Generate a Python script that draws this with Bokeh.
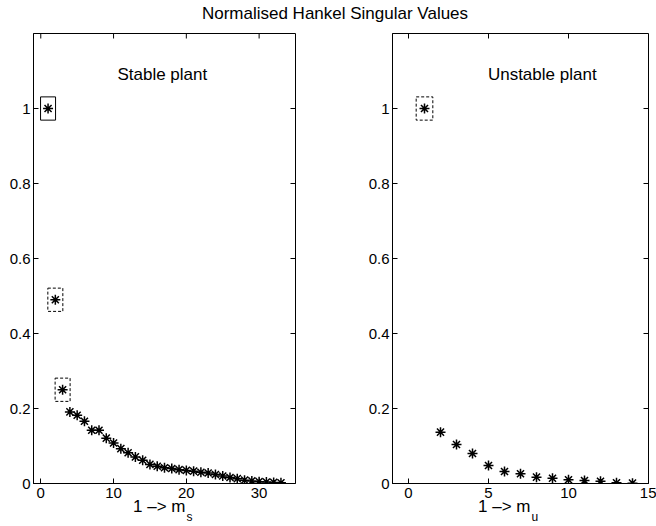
from bokeh.plotting import figure
from bokeh.models import Range1d, FixedTicker, Label, Div, ColumnDataSource
from bokeh.layouts import row, column
from bokeh.embed import file_html
from bokeh.resources import INLINE

# ---------------- data ----------------
title_text = "Normalised Hankel Singular Values"

stable_index = list(range(1, 34))
stable_hsv = [1.0, 0.49, 0.25, 0.191, 0.182, 0.166, 0.142, 0.142, 0.121, 0.108,
              0.093, 0.082, 0.071, 0.062, 0.051, 0.046, 0.042, 0.040, 0.037, 0.035,
              0.033, 0.030, 0.028, 0.024, 0.020, 0.016, 0.013, 0.009, 0.007, 0.005,
              0.004, 0.003, 0.002]

unstable_index = list(range(1, 15))
unstable_hsv = [1.0, 0.137, 0.104, 0.080, 0.048, 0.032, 0.026, 0.017, 0.014, 0.010,
                0.008, 0.006, 0.002, 0.001]

# highlighted (boxed) states
stable_boxed = [1, 2, 3]
unstable_boxed = [1]

stable_xticks = [0, 10, 20, 30]
unstable_xticks = [0, 5, 10, 15]
yticks = [0, 0.2, 0.4, 0.6, 0.8, 1]
ytick_labels = ["0", "0.2", "0.4", "0.6", "0.8", "1"]

FONT = "Liberation Sans"
FRAME_H = 450
TOP_B = 9
BOT_B = 22
Y_MAX = 1.2
TICK_PX = 5


def panel(width, bl, br, frame_w, xr, xticks, xs, ys, boxed, box_w, box_dashes,
          name, name_x):
    p = figure(width=width, height=TOP_B + FRAME_H + BOT_B, x_range=Range1d(*xr),
               y_range=Range1d(0, Y_MAX),
               output_backend="svg", toolbar_location=None,
               min_border_left=bl, min_border_right=br,
               min_border_top=TOP_B, min_border_bottom=BOT_B)
    p.xgrid.visible = False
    p.ygrid.visible = False
    p.outline_line_color = "black"
    p.outline_line_width = 1
    p.background_fill_color = "white"
    p.border_fill_color = "white"

    for ax in [p.xaxis[0], p.yaxis[0]]:
        ax.major_tick_in = TICK_PX
        ax.major_tick_out = 0
        ax.minor_tick_line_color = None
        ax.axis_line_color = "black"
        ax.major_tick_line_color = "black"
        ax.major_label_text_font = FONT
        ax.major_label_text_font_size = "15px"
        ax.major_label_text_color = "black"
    p.xaxis[0].ticker = FixedTicker(ticks=xticks)
    p.xaxis[0].major_label_standoff = 4
    p.yaxis[0].ticker = FixedTicker(ticks=yticks)
    p.yaxis[0].major_label_overrides = {t: l for t, l in zip(yticks, ytick_labels)}
    p.yaxis[0].major_label_standoff = 3

    # mirrored inward ticks on the right and top edges of the box
    dx = TICK_PX * (xr[1] - xr[0]) / frame_w
    dy = TICK_PX * Y_MAX / FRAME_H
    p.segment(x0=[xr[1]] * len(yticks), y0=yticks,
              x1=[xr[1] - dx] * len(yticks), y1=yticks, line_color="black", line_width=1)
    p.segment(x0=xticks, y0=[Y_MAX] * len(xticks),
              x1=xticks, y1=[Y_MAX - dy] * len(xticks), line_color="black", line_width=1)

    src = ColumnDataSource(dict(x=xs, y=ys))
    p.scatter("x", "y", source=src, marker="asterisk", size=10,
              line_color="black", line_width=1.5)

    bx = [xs[i - 1] for i in boxed]
    by = [ys[i - 1] for i in boxed]
    for x0, y0, dash in zip(bx, by, box_dashes):
        bsrc = ColumnDataSource(dict(x=[x0], y=[y0]))
        p.rect("x", "y", width=box_w, height=0.062, source=bsrc, fill_color=None,
               line_color="black", line_width=1, line_dash=dash)

    p.add_layout(Label(x=name_x, y=1.092, text=name, text_font=FONT,
                       text_font_size="17px", text_align="center",
                       text_baseline="alphabetic", text_color="black"))
    return p


def xlabel_div(width, left_px, sub):
    html = ('<div style="position:relative; top:-6px; margin-left:%dpx; '
            'font-family:\'%s\'; font-size:17px; line-height:16px; color:black; '
            'white-space:nowrap;">1 &ndash;&gt; m<span style="position:relative; '
            'top:9px; font-size:12px; line-height:12px; margin-left:1px;">%s</span></div>'
            % (left_px, FONT, sub))
    return Div(text=html, width=width, height=21, margin=(0, 0, 0, 0))


p1 = panel(341, 33, 46, 262, (-1, 35), stable_xticks, stable_index, stable_hsv,
           stable_boxed, 2.06, ["solid", "3 2", "3 2"], "Stable plant", 16.7)
p2 = panel(315, 51, 8, 256, (-1, 15), unstable_xticks, unstable_index, unstable_hsv,
           unstable_boxed, 1.04, ["3 2"], "Unstable plant", 8.36)

title = Div(text=('<div style="position:relative; top:2px; left:7px; width:656px; '
                  'font-family:\'%s\'; font-size:17px; line-height:24px; '
                  'text-align:center; color:black; white-space:nowrap;">%s</div>'
                  % (FONT, title_text)),
            width=656, height=24, margin=(0, 0, 0, 0))

left_col = column(p1, xlabel_div(341, 133, "s"), spacing=0)
right_col = column(p2, xlabel_div(315, 137, "u"), spacing=0)
layout = column(title, row(left_col, right_col, spacing=0), spacing=0)

open("out.html", "w").write(file_html(layout, INLINE))
